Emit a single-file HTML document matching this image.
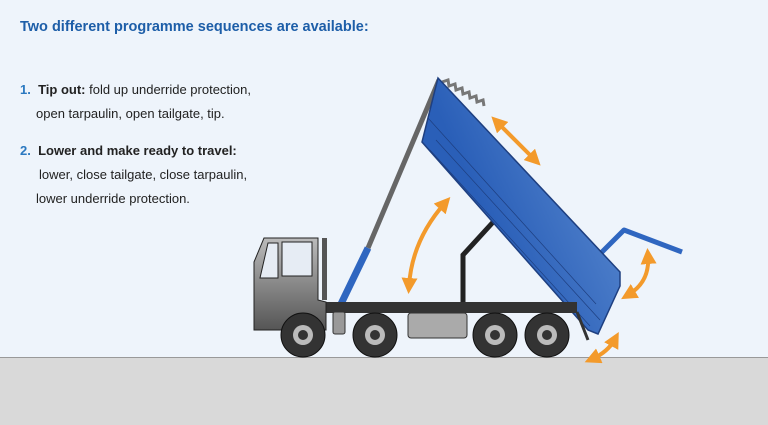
<!DOCTYPE html>
<html><head><meta charset="utf-8"><style>
body{margin:0;width:768px;height:425px;overflow:hidden;background:#eef4fb;font-family:"Liberation Sans",sans-serif}
.t{position:absolute;left:20px;top:19px;font-size:14.5px;font-weight:bold;color:#1d5ea8}
.l{position:absolute;font-size:13px;color:#222;white-space:nowrap}
.n{color:#2a78c0;font-weight:bold}
</style></head><body>
<div class="t">Two different programme sequences are available:</div>
<div class="l" style="left:20px;top:82px"><span class="n">1.</span>&nbsp; <b>Tip out:</b> fold up underride protection,</div>
<div class="l" style="left:36px;top:106px">open tarpaulin, open tailgate, tip.</div>
<div class="l" style="left:20px;top:143px"><span class="n">2.</span>&nbsp; <b>Lower and make ready to travel:</b></div>
<div class="l" style="left:39px;top:167px">lower, close tailgate, close tarpaulin,</div>
<div class="l" style="left:36px;top:191px">lower underride protection.</div>
<svg width="768" height="425" style="position:absolute;left:0;top:0">
<defs>
<linearGradient id="bl" x1="0" y1="0" x2="1" y2="-0.6"><stop offset="0" stop-color="#2a5fb8"/><stop offset="1" stop-color="#7aa6e0"/></linearGradient>
<linearGradient id="gr" x1="0" y1="0" x2="0" y2="1"><stop offset="0" stop-color="#bbb"/><stop offset="1" stop-color="#555"/></linearGradient>
<marker id="ah" markerWidth="4" markerHeight="4" refX="2" refY="2" orient="auto-start-reverse"><path d="M0,0L4,2L0,4z" fill="#f39a2b"/></marker>
</defs>
<rect x="0" y="357" width="768" height="68" fill="#d9d9d9"/>
<line x1="0" y1="357.5" x2="768" y2="357.5" stroke="#999"/>
<line x1="439" y1="80" x2="368" y2="248" stroke="#666" stroke-width="5"/>
<line x1="368" y1="248" x2="340" y2="306" stroke="#2f66c0" stroke-width="7"/>
<path d="M463,303V255L495,220" stroke="#222" stroke-width="5" fill="none"/>
<path d="M442,82l6,-2 1,6 6,-2 1,6 6,-2 1,6 6,-2 1,6 6,-2 1,6 6,-2 1,6" stroke="#777" stroke-width="3" fill="none"/>
<path d="M600,254L624,230L682,252" stroke="#2f66c0" stroke-width="5" fill="none" stroke-linejoin="round"/>
<path d="M438,78L620,272L620,286L598,334L588,330L422,142Z" fill="url(#bl)" stroke="#1e3f80" stroke-width="1.5"/>
<path d="M430,150L590,326M436,140L600,320M428,118L596,304" stroke="#1e3f80" stroke-width="0.7" fill="none"/>
<rect x="322" y="302" width="255" height="11" fill="#333"/>
<path d="M254,330V262L264,238H318V300L326,302V330Z" fill="url(#gr)" stroke="#222"/>
<rect x="282" y="242" width="30" height="34" fill="#e6ecf4" stroke="#222"/>
<path d="M268,243H278V278H260Z" fill="#e6ecf4" stroke="#222"/>
<rect x="322" y="238" width="5" height="62" fill="#555"/>
<rect x="333" y="312" width="12" height="22" rx="2" fill="#999" stroke="#333"/>
<rect x="408" y="313" width="59" height="25" rx="3" fill="#aaa" stroke="#333"/>
<g fill="#333" stroke="#111">
<circle cx="303" cy="335" r="22"/><circle cx="375" cy="335" r="22"/><circle cx="495" cy="335" r="22"/><circle cx="547" cy="335" r="22"/></g>
<g fill="#bbb"><circle cx="303" cy="335" r="10"/><circle cx="375" cy="335" r="10"/><circle cx="495" cy="335" r="10"/><circle cx="547" cy="335" r="10"/></g>
<g fill="#333"><circle cx="303" cy="335" r="5"/><circle cx="375" cy="335" r="5"/><circle cx="495" cy="335" r="5"/><circle cx="547" cy="335" r="5"/></g>
<path d="M577,312L588,340" stroke="#333" stroke-width="3"/>
<g stroke="#f39a2b" stroke-width="4" fill="none" marker-start="url(#ah)" marker-end="url(#ah)">
<line x1="497" y1="122" x2="535" y2="160"/>
<path d="M445,203Q412,240 409,286"/>
<path d="M648,256Q650,282 628,295"/>
<path d="M615,339Q608,352 592,359"/>
</g>
</svg>
</body></html>
